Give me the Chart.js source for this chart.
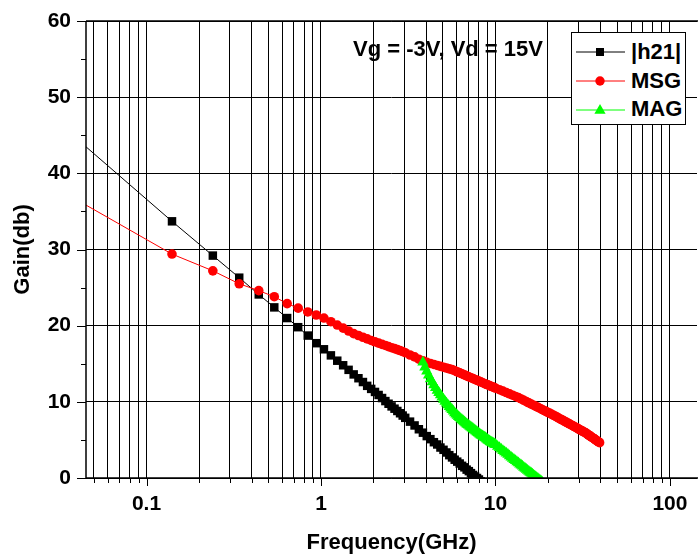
<!DOCTYPE html>
<html>
<head>
<meta charset="utf-8">
<title>Gain vs Frequency</title>
<script src="https://cdn.jsdelivr.net/npm/chart.js@4.4.1/dist/chart.umd.min.js"></script>
<style>
  body { margin: 0; background: #fff; }
  #wrap { position: relative; width: 698px; height: 559px; }
  #gainChart { position: absolute; left: 0; top: 0; }
  .txt {
    position: absolute;
    font-family: "Liberation Sans", Arial, sans-serif;
    font-weight: bold;
    font-size: 22px;
    line-height: 22px;
    color: #000;
    white-space: nowrap;
  }
  #legendBox {
    position: absolute;
    left: 571px; top: 32px; width: 115px; height: 93px;
    box-sizing: border-box;
    border: 1px solid #000;
    background: #fff;
  }
  .sample { position: absolute; left: 576px; }
</style>
</head>
<body>
<div id="wrap">
  <canvas id="gainChart" width="698" height="559"></canvas>

  <div class="txt" style="left:353px; top:38px;">Vg = -3V, Vd = 15V</div>

  <div id="legendBox"></div>
  <svg class="sample" style="top:46px" width="50" height="12">
    <line x1="0" y1="6" x2="49" y2="6" stroke="#000" stroke-width="1"/>
    <rect x="20" y="2" width="8" height="8" fill="#000"/>
  </svg>
  <div class="txt" style="left:631px; top:41px;">|h21|</div>
  <svg class="sample" style="top:75px" width="50" height="12">
    <line x1="0" y1="6" x2="49" y2="6" stroke="#ff0000" stroke-width="1"/>
    <circle cx="24" cy="6" r="4.7" fill="#ff0000"/>
  </svg>
  <div class="txt" style="left:631px; top:70px;">MSG</div>
  <svg class="sample" style="top:103px" width="50" height="12">
    <line x1="0" y1="7" x2="49" y2="7" stroke="#00ff00" stroke-width="1"/>
    <polygon points="24,1 29.6,10.8 18.4,10.8" fill="#00ff00"/>
  </svg>
  <div class="txt" style="left:631px; top:98px;">MAG</div>
</div>

<script>
// measured frequency points (GHz) for |h21| and MSG
const freqGHz = [
  0.04, 0.14, 0.24, 0.34, 0.44, 0.54, 0.64, 0.74, 0.84, 0.94,
  1.04, 1.14, 1.24, 1.34, 1.44, 1.54, 1.64, 1.74, 1.84, 1.94,
  2.04, 2.14, 2.24, 2.34, 2.44, 2.54, 2.64, 2.74, 2.84, 2.94,
  3.04, 3.24, 3.44, 3.64, 3.84, 4.04, 4.24, 4.44, 4.64, 4.84,
  5.04, 5.24, 5.44, 5.64, 5.84, 6.04, 6.24, 6.44, 6.64, 6.84,
  7.04, 7.24, 7.44, 7.64, 7.84, 8.04, 8.24, 8.44, 8.64, 8.84,
  9.04, 9.24, 9.44, 9.64, 9.84,
  10.04, 10.54, 11.04, 11.54, 12.04, 12.54, 13.04, 13.54, 14.04, 14.54,
  15.04, 15.54, 16.04, 16.54, 17.04, 17.54, 18.04, 18.54, 19.04, 19.54,
  20.04, 20.54, 21.04, 21.54, 22.04, 22.54, 23.04, 23.54, 24.04, 24.54,
  25.04, 25.54, 26.04, 26.54, 27.04, 27.54, 28.04, 28.54, 29.04, 29.54,
  30.04, 30.54, 31.04, 31.54, 32.04, 32.54, 33.04, 33.54, 34.04, 34.54,
  35.04, 35.54, 36.04, 36.54, 37.04, 37.54, 38.04, 38.54, 39.04, 39.54
];

// |h21| in dB, from 0.04 GHz up to 8.24 GHz
const h21Db = [
  44.5, 33.7, 29.2, 26.3, 24.1, 22.4, 21.0, 19.8, 18.7, 17.7,
  16.9, 16.1, 15.4, 14.8, 14.2, 13.6, 13.1, 12.6, 12.1, 11.7,
  11.3, 10.9, 10.5, 10.1, 9.75, 9.4, 9.1, 8.8, 8.5, 8.2,
  7.9, 7.4, 6.9, 6.4, 5.95, 5.5, 5.1, 4.7, 4.4, 4.0,
  3.7, 3.35, 3.0, 2.7, 2.4, 2.15, 1.9, 1.6, 1.4, 1.1,
  0.9, 0.64, 0.4, 0.2, 0.0, -0.2, -0.45
];

// MSG in dB, full sweep
const msgDb = [
  36.5, 29.4, 27.2, 25.5, 24.6, 23.8, 22.9, 22.3, 21.8, 21.4,
  21.0, 20.52, 20.08, 19.68, 19.3, 18.95, 18.71, 18.48, 18.26, 18.06,
  17.88, 17.71, 17.55, 17.4, 17.25, 17.11, 16.98, 16.85, 16.73, 16.6,
  16.45, 16.15, 15.9, 15.6, 15.4, 15.18, 15.04, 14.91, 14.78, 14.66,
  14.55, 14.44, 14.33, 14.23, 14.1, 13.95, 13.81, 13.68, 13.54, 13.42,
  13.29, 13.17, 13.05, 12.94, 12.83, 12.72, 12.62, 12.51, 12.41, 12.31,
  12.22, 12.13, 12.04, 11.96, 11.87,
  11.79, 11.59, 11.4, 11.22, 11.04, 10.87, 10.71, 10.56, 10.38, 10.2,
  10.03, 9.87, 9.71, 9.56, 9.41, 9.27, 9.13, 8.99, 8.86, 8.73,
  8.6, 8.48, 8.36, 8.24, 8.11, 7.99, 7.87, 7.75, 7.64, 7.53,
  7.42, 7.31, 7.2, 7.1, 7.0, 6.9, 6.8, 6.7, 6.61, 6.51,
  6.42, 6.33, 6.24, 6.15, 6.07, 5.98, 5.89, 5.79, 5.68, 5.58,
  5.48, 5.38, 5.29, 5.19, 5.1, 5.0, 4.91, 4.82, 4.73, 4.64
];

// MAG exists only where K > 1 (from 3.84 GHz), finer sweep
const magFreqGHz = [
  3.84, 3.94, 4.04, 4.14, 4.24, 4.34, 4.44, 4.54, 4.64, 4.74,
  4.84, 4.94, 5.04, 5.14, 5.24, 5.34, 5.44, 5.54, 5.64, 5.74,
  5.84, 5.94, 6.04, 6.14, 6.24, 6.34, 6.44, 6.54, 6.64, 6.74,
  6.84, 6.94, 7.04, 7.14, 7.24, 7.34, 7.44, 7.54, 7.64, 7.74,
  7.84, 7.94, 8.04, 8.14, 8.24, 8.34, 8.44, 8.54, 8.64, 8.74,
  8.84, 8.94, 9.04, 9.14, 9.24, 9.34, 9.44, 9.54, 9.64, 9.74,
  9.84, 9.94,
  10.04, 10.29, 10.54, 10.79, 11.04, 11.29, 11.54, 11.79, 12.04, 12.29,
  12.54, 12.79, 13.04, 13.29, 13.54, 13.79, 14.04, 14.29, 14.54, 14.79,
  15.04, 15.29, 15.54, 15.79, 16.04, 16.29, 16.54, 16.79, 17.04, 17.29,
  17.54, 17.79, 18.04, 18.29, 18.54
];
const magDb = [
  15.2, 14.55, 14.0, 13.5, 13.0, 12.6, 12.2, 11.85, 11.5, 11.2,
  10.9, 10.6, 10.3, 10.05, 9.8, 9.57, 9.35, 9.15, 8.95, 8.75,
  8.55, 8.37, 8.2, 8.05, 7.9, 7.75, 7.6, 7.47, 7.35, 7.22,
  7.1, 7.0, 6.9, 6.77, 6.65, 6.55, 6.45, 6.35, 6.25, 6.15,
  6.05, 5.95, 5.85, 5.75, 5.65, 5.57, 5.5, 5.42, 5.35, 5.27,
  5.2, 5.1, 5.0, 4.92, 4.85, 4.77, 4.7, 4.65, 4.6, 4.52,
  4.45, 4.4,
  4.35, 4.15, 3.96, 3.77, 3.59, 3.41, 3.24, 3.07, 2.9, 2.73,
  2.57, 2.41, 2.26, 2.11, 1.96, 1.81, 1.67, 1.53, 1.39, 1.25,
  1.12, 0.99, 0.86, 0.73, 0.61, 0.48, 0.36, 0.24, 0.12, 0.0,
  -0.11, -0.22, -0.33, -0.44, -0.55
];

const freqTickLabels = ['0.1', '1', '10', '100'];
const gainTicks = [0, 10, 20, 30, 40, 50, 60];

const FONT = "'Liberation Sans', Arial, sans-serif";

function toPoints(freqs, vals) {
  return vals.map((v, i) => ({ x: freqs[i], y: v }));
}

// 1..9 x 10^n grid lines for the log axis
const X_MIN = 0.045, X_MAX = 143;
const xTicks = [];
for (let e = -2; e <= 2; e++) {
  for (let d = 1; d <= 9; d++) {
    const v = d * Math.pow(10, e);
    if (v >= X_MIN && v <= X_MAX) xTicks.push({ value: v, major: d === 1 });
  }
}

// frame + outward tick marks (major longer than minor)
const axisFrame = {
  id: 'axisFrame',
  afterDatasetsDraw(chart) {
    const { ctx, chartArea: a, scales } = chart;
    ctx.save();
    ctx.strokeStyle = '#000';
    ctx.lineWidth = 1.5;
    ctx.beginPath();
    ctx.moveTo(a.left, a.top); ctx.lineTo(chart.width, a.top);
    ctx.moveTo(a.left, a.top); ctx.lineTo(a.left, a.bottom);
    ctx.moveTo(a.left, a.bottom); ctx.lineTo(chart.width, a.bottom);
    ctx.stroke();

    ctx.lineWidth = 1;
    ctx.beginPath();
    xTicks.forEach(t => {
      const px = Math.round(scales.x.getPixelForValue(t.value)) + 0.5;
      ctx.moveTo(px, a.bottom);
      ctx.lineTo(px, a.bottom + (t.major ? 8 : 5));
    });
    for (let v = 0; v <= 60; v += 5) {
      const py = Math.round(scales.y.getPixelForValue(v)) + 0.5;
      ctx.moveTo(a.left, py);
      ctx.lineTo(a.left - (v % 10 === 0 ? 9 : 5), py);
    }
    ctx.stroke();
    ctx.restore();
  }
};

const ctx = document.getElementById('gainChart').getContext('2d');
new Chart(ctx, {
  type: 'line',
  data: {
    datasets: [
      {
        label: '|h21|',
        data: toPoints(freqGHz, h21Db),
        borderColor: '#000000',
        backgroundColor: '#000000',
        borderWidth: 1,
        pointStyle: 'rect',
        pointRadius: 6,
        pointBorderWidth: 0,
        clip: 0,
        order: 2
      },
      {
        label: 'MSG',
        data: toPoints(freqGHz, msgDb),
        borderColor: '#ff0000',
        backgroundColor: '#ff0000',
        borderWidth: 1,
        pointStyle: 'circle',
        pointRadius: 4.8,
        pointBorderWidth: 0,
        clip: 0,
        order: 1
      },
      {
        label: 'MAG',
        data: toPoints(magFreqGHz, magDb),
        borderColor: '#00ff00',
        backgroundColor: '#00ff00',
        borderWidth: 1,
        pointStyle: 'triangle',
        pointRadius: 6.5,
        pointBorderWidth: 0,
        clip: 0,
        order: 0
      }
    ]
  },
  options: {
    responsive: false,
    animation: false,
    layout: { autoPadding: false, padding: { top: 21, right: 1, left: 0, bottom: 0 } },
    elements: { line: { tension: 0 } },
    plugins: {
      legend: { display: false },
      tooltip: { enabled: false }
    },
    scales: {
      x: {
        type: 'logarithmic',
        min: X_MIN,
        max: X_MAX,
        afterBuildTicks: s => { s.ticks = xTicks.map(t => ({ value: t.value, major: t.major })); },
        afterFit: s => { s.height = 81; s.paddingLeft = 0; s.paddingRight = 0; },
        ticks: {
          autoSkip: false,
          maxRotation: 0,
          padding: 14,
          color: '#000',
          font: { family: FONT, size: 21, weight: 'bold' },
          callback: function (value, index, ticks) {
            if (!ticks[index].major) return '';
            const lbl = String(+value.toPrecision(1));
            return freqTickLabels.includes(lbl) ? lbl : '';
          }
        },
        grid: { color: '#000', lineWidth: 1, drawTicks: false },
        border: { display: false },
        title: {
          display: true,
          text: 'Frequency(GHz)',
          color: '#000',
          font: { family: FONT, size: 22, weight: 'bold' },
          padding: { top: 0, bottom: 3 }
        }
      },
      y: {
        min: 0,
        max: 60,
        afterFit: s => { s.width = 86; s.paddingTop = 0; s.paddingBottom = 0; },
        ticks: {
          stepSize: 5,
          padding: 15,
          color: '#000',
          font: { family: FONT, size: 21, weight: 'bold' },
          callback: v => (gainTicks.includes(v) ? v : '')
        },
        grid: {
          color: c => (c.tick && c.tick.value % 10 === 0 ? '#000' : 'rgba(0,0,0,0)'),
          lineWidth: 1,
          drawTicks: false
        },
        border: { display: false },
        title: {
          display: true,
          text: 'Gain(db)',
          color: '#000',
          font: { family: FONT, size: 22, weight: 'bold' },
          padding: { top: 10, bottom: 0 }
        }
      }
    }
  },
  plugins: [axisFrame]
});
</script>
</body>
</html>
